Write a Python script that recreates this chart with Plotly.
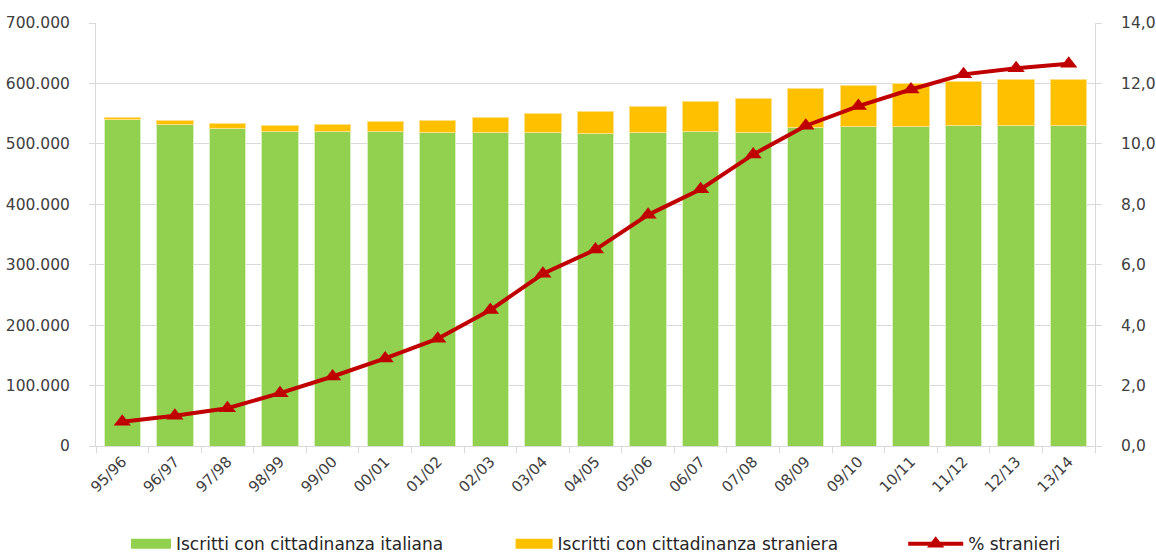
import plotly.graph_objects as go

categories = ["95/96", "96/97", "97/98", "98/99", "99/00", "00/01", "01/02", "02/03", "03/04",
              "04/05", "05/06", "06/07", "07/08", "08/09", "09/10", "10/11", "11/12", "12/13", "13/14"]
italiani = [540000, 532300, 526200, 520800, 520100, 520100, 519600, 519100, 519600,
            517500, 519100, 520800, 519100, 527900, 529000, 529000, 530000, 531200, 530700]
stranieri = [4400, 6000, 7000, 9200, 12200, 16100, 19400, 24800, 31400,
             35700, 43500, 48500, 55600, 62900, 67200, 71200, 74000, 76100, 76600]
perc_stranieri = [0.8, 1.0, 1.25, 1.75, 2.3, 2.9, 3.55, 4.5, 5.7,
                  6.5, 7.65, 8.5, 9.65, 10.6, 11.25, 11.8, 12.3, 12.5, 12.65]

FONT = "DejaVu Sans"
TXT = "#404040"
GREEN, ORANGE, RED = "#92D050", "#FFC000", "#C00000"
NAME_IT = "Iscritti con cittadinanza italiana"
NAME_ST = "Iscritti con cittadinanza straniera"

fig = go.Figure()
fig.add_trace(go.Bar(x=categories, y=italiani, name=NAME_IT, showlegend=False,
                     marker=dict(color=GREEN, line=dict(color="#d8efc0", width=1))))
fig.add_trace(go.Bar(x=categories, y=stranieri, name=NAME_ST, showlegend=False,
                     marker=dict(color=ORANGE, line=dict(color="#ffe08a", width=1))))
fig.add_trace(go.Scatter(x=categories, y=perc_stranieri, name="% stranieri", yaxis="y2",
                         mode="lines+markers", legend="legend3",
                         line=dict(color=RED, width=4),
                         marker=dict(symbol="triangle-up", size=15, color=RED)))
# legend-only swatches (wide rectangles like the original legend)
fig.add_trace(go.Scatter(x=[None], y=[None], name=NAME_IT, mode="lines", legend="legend",
                         line=dict(color=GREEN, width=14), hoverinfo="skip"))
fig.add_trace(go.Scatter(x=[None], y=[None], name=NAME_ST, mode="lines", legend="legend2",
                         line=dict(color=ORANGE, width=14), hoverinfo="skip"))

leg_common = dict(orientation="h", xanchor="left", y=-0.232, yanchor="middle",
                  font=dict(size=17, color="#262626"), bgcolor="rgba(0,0,0,0)")

fig.update_layout(
    width=1156, height=553,
    barmode="stack", bargap=0.31,
    separators=",.",
    paper_bgcolor="white", plot_bgcolor="white",
    margin=dict(l=96, r=61, t=23, b=107, autoexpand=False),
    font=dict(family=FONT, size=15, color=TXT),
    xaxis=dict(type="category", range=[-0.5, len(categories) - 0.5], tickangle=-45,
               ticks="outside", tickson="boundaries",
               ticklen=6, tickcolor="#d9d9d9", showline=True, linecolor="#d9d9d9", linewidth=1,
               tickfont=dict(size=15, color=TXT), showgrid=False, automargin=False),
    yaxis=dict(range=[0, 700000], dtick=100000, tickformat=",d", showgrid=True,
               gridcolor="#d9d9d9", gridwidth=1, showline=True, linecolor="#d9d9d9",
               ticks="outside", ticklen=6, tickcolor="#d9d9d9", zeroline=False,
               tickfont=dict(size=15.5, color=TXT), automargin=False, ticklabelstandoff=16),
    yaxis2=dict(range=[0, 14], dtick=2, tickformat=".1f", overlaying="y", side="right",
                showgrid=False, showline=True, linecolor="#d9d9d9", ticks="outside",
                ticklen=6, tickcolor="#d9d9d9", zeroline=False,
                tickfont=dict(size=15.5, color=TXT), automargin=False, ticklabelstandoff=16),
    legend=dict(x=0.030, itemwidth=40, **leg_common),
    legend2=dict(x=0.415, itemwidth=37, **leg_common),
    legend3=dict(x=0.808, itemwidth=55, **leg_common),
)

fig.write_html("out.html", config={"displayModeBar": False},
               post_script="document.body.style.margin='0';")
